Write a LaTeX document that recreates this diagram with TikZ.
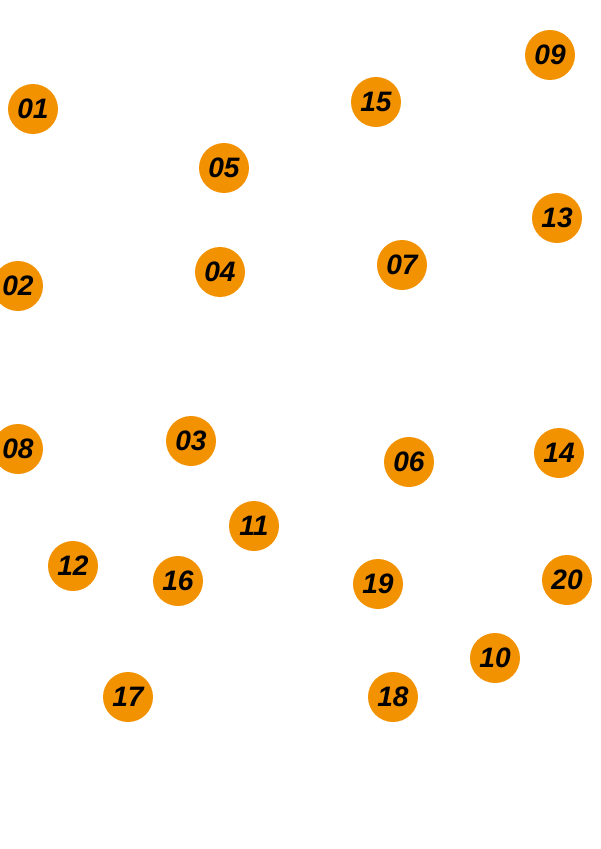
\documentclass[tikz,border=0pt]{standalone}
\usepackage{fontspec}
\setmainfont{Liberation Sans}
\usetikzlibrary{positioning}
\definecolor{ballorange}{HTML}{F39200}
\tikzset{ball/.style={circle, fill=ballorange, minimum size=1cm, inner sep=0pt, font=\fontsize{16}{16}\selectfont\bfseries\itshape}}

\begin{document}
\begin{tikzpicture}[x=0.02cm, y=-0.02cm]
        \useasboundingbox (0,0) rectangle (600,849);
        \node[ball] (n01) at (33,109) {01};
        \node[ball] (n02) at (18,286) {02};
        \node[ball] (n03) at (191,441) {03};
        \node[ball] (n04) at (220,272) {04};
        \node[ball] (n05) at (224,168) {05};
        \node[ball] (n06) at (409,462) {06};
        \node[ball] (n07) at (402,265) {07};
        \node[ball] (n08) at (18,449) {08};
        \node[ball] (n09) at (550,55) {09};
        \node[ball] (n10) at (495,658) {10};
        \node[ball] (n11) at (254,526) {11};
        \node[ball] (n12) at (73,566) {12};
        \node[ball] (n13) at (557,218) {13};
        \node[ball] (n14) at (559,453) {14};
        \node[ball] (n15) at (376,102) {15};
        \node[ball] (n16) at (178,581) {16};
        \node[ball] (n17) at (128,697) {17};
        \node[ball] (n18) at (393,697) {18};
        \node[ball] (n19) at (378,584) {19};
        \node[ball] (n20) at (567,580) {20};
    \end{tikzpicture}
\end{document}
